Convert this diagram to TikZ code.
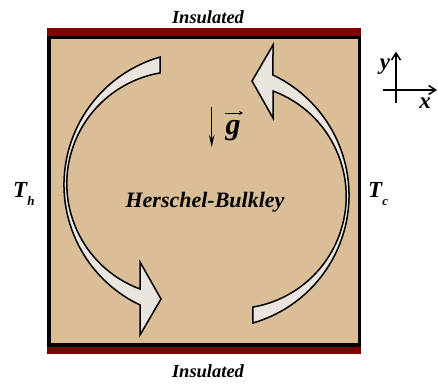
\documentclass[tikz,border=0pt]{standalone}
\usepackage{fontspec}
\setmainfont{Liberation Serif}
\usetikzlibrary{arrows.meta}
\definecolor{sand}{RGB}{217,190,152}
\definecolor{wallred}{RGB}{128,0,0}
\definecolor{flowfill}{RGB}{234,229,222}
\newcommand{\fsz}[1]{\fontsize{#1}{#1}\selectfont}
\begin{document}
\begin{tikzpicture}[x=1pt,y=1pt,
  lab/.style={font=\bfseries\itshape, inner sep=0pt, anchor=base},
  flow/.style={draw=black, line width=1.5pt, fill=flowfill, line join=miter},
  wall/.style={fill=wallred},
  axis/.style={line width=1.5pt, -{Straight Barb[length=7pt,width=9pt]}}]
\useasboundingbox (0,0) rectangle (438,-383);
% cavity
\fill[sand] (49,-37.7) rectangle (359.5,-345);
\fill[wall] (47.3,-28.3) rectangle (361,-36);
\fill[wall] (47.3,-346.7) rectangle (361,-354);
\draw[line width=3.4pt] (49,-37.7) rectangle (359.5,-345);
% left circulation arrow
\filldraw[flow] (197,-184.8) ++(106.15:133)
  arc[start angle=106.15, end angle=244.63, radius=133]
  -- (140,-335) -- (161,-299) -- (140,-262) -- (140,-289)
  arc[start angle=249.58, end angle=99.84, radius=112.4] -- cycle;
% right circulation arrow
\begin{scope}[rotate around={180:(206.5,-190)}]
\filldraw[flow] (197,-184.8) ++(106.15:133)
  arc[start angle=106.15, end angle=244.63, radius=133]
  -- (140,-335) -- (161,-299) -- (140,-262) -- (140,-289)
  arc[start angle=249.58, end angle=99.84, radius=112.4] -- cycle;
\end{scope}
% labels
\node[lab, font=\bfseries\itshape\fsz{18.5}] (instop) at (208,-23) {Insulated};
\node[lab, font=\bfseries\itshape\fsz{18.5}] (insbot) at (208,-377) {Insulated};
\node[lab, font=\bfseries\itshape\fsz{22}] (hb) at (205,-207) {Herschel-Bulkley};
\node[lab, font=\bfseries\itshape\fsz{23}, anchor=base west] (th) at (13,-197.7) {T\raisebox{-8pt}{\fsz{13}h}};
\node[lab, font=\bfseries\itshape\fsz{23}, anchor=base west] (tc) at (368,-197.7) {T\raisebox{-8pt}{\fsz{13}c}};
% gravity
\coordinate (gtop) at (211.7,-107);
\coordinate (gbot) at (211.7,-147);
\draw[line width=1.4pt, -{Stealth[length=12pt,width=5.5pt]}] (gtop) -- (gbot);
\node[lab, font=\bfseries\itshape\fsz{30}] (g) at (233,-134) {g};
\coordinate (va) at (225,-113);
\coordinate (vb) at (243,-113);
\draw[line width=1pt, -{Stealth[length=4pt,width=4pt]}] (va) -- (vb);
% axes
\coordinate (yb) at (396,-103);
\coordinate (yt) at (396,-51.7);
\coordinate (xl) at (383,-90);
\coordinate (xr) at (437,-90);
\draw[axis] (yb) -- (yt);
\draw[axis] (xl) -- (xr);
\node[lab, font=\bfseries\itshape\fsz{23}] (ylab) at (385,-69) {y};
\node[lab, font=\bfseries\itshape\fsz{23}] (xlab) at (425,-108.5) {x};
\end{tikzpicture}
\end{document}
